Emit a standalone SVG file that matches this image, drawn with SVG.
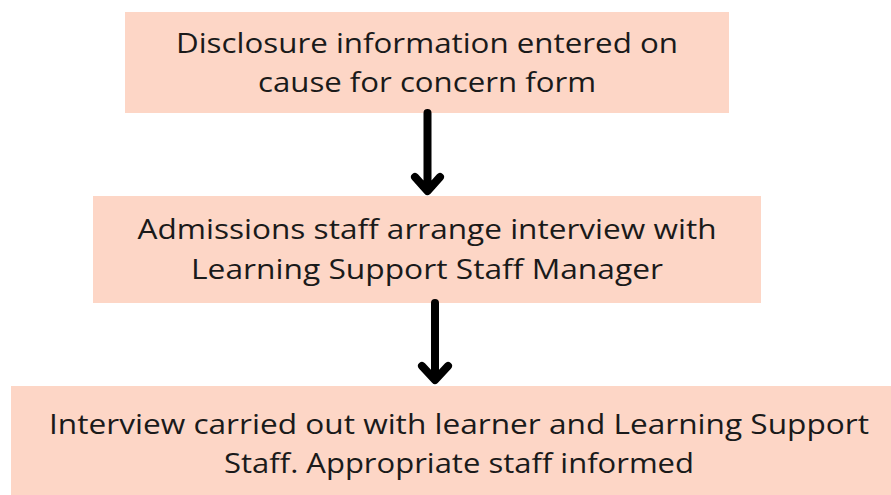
<svg xmlns="http://www.w3.org/2000/svg" width="891" height="495" viewBox="0 0 891 495">
<style>
.box{fill:#FDD6C6}
.t{font-family:"Open Sans","DejaVu Sans",sans-serif;font-size:28px;fill:#1a1a1a;text-anchor:middle}
.arr{stroke:#000;stroke-width:8;fill:none;stroke-linecap:round;stroke-linejoin:round}
</style>
<rect width="891" height="495" fill="#fff"/>
<g id="node1">
<rect class="box" x="125" y="12" width="604" height="101"/>
<text class="t" x="427" y="53" textLength="502" lengthAdjust="spacingAndGlyphs">Disclosure information entered on</text>
<text class="t" x="427" y="92" textLength="338" lengthAdjust="spacingAndGlyphs">cause for concern form</text>
</g>
<g id="node2">
<rect class="box" x="93" y="196" width="668" height="107"/>
<text class="t" x="427" y="239" textLength="579" lengthAdjust="spacingAndGlyphs">Admissions staff arrange interview with</text>
<text class="t" x="427" y="279" textLength="472" lengthAdjust="spacingAndGlyphs">Learning Support Staff Manager</text>
</g>
<g id="node3">
<rect class="box" x="11" y="386" width="880" height="109"/>
<text class="t" x="459" y="434" textLength="820" lengthAdjust="spacingAndGlyphs">Interview carried out with learner and Learning Support</text>
<text class="t" x="459" y="473" textLength="470" lengthAdjust="spacingAndGlyphs">Staff. Appropriate staff informed</text>
</g>
<g id="connectors">
<path class="arr" d="M427.5 113 V190 M415 177 L427.5 191 L440 177"/>
<path class="arr" d="M435 303 V379 M422 366 L435 380 L448 366"/>
</g>
</svg>
